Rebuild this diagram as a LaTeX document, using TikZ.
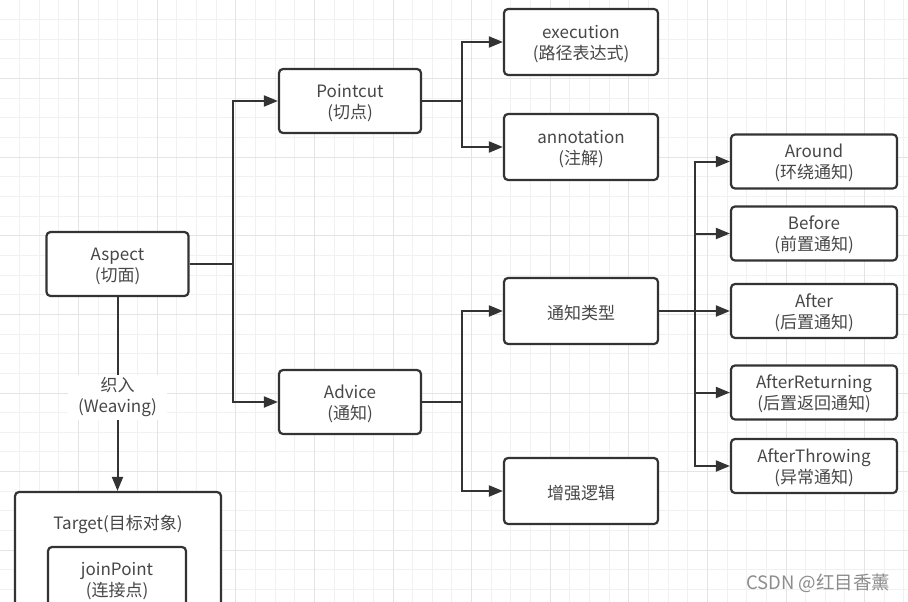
\documentclass[tikz,border=0pt]{standalone}
\usepackage{fontspec}
\setmainfont{Noto Sans CJK SC}
\usetikzlibrary{arrows.meta,positioning,calc}
\definecolor{ink}{HTML}{333333}
\definecolor{gridc}{HTML}{F1F1F1}
\definecolor{gridd}{HTML}{E4E4E4}
\definecolor{mark}{HTML}{8C8C8C}

\begin{document}
\begin{tikzpicture}[x=1pt, y=-1pt, >={Triangle[length=14pt,width=11pt]},
  txt/.style={text=ink!90, font=\fontsize{17}{21}\selectfont},
  box/.style={txt, draw=ink, line width=2.2pt, rounded corners=4pt, fill=white, align=center, inner sep=0pt},
  tbox/.style={box, execute at begin node={\rule{0pt}{38pt}}},
  obox/.style={box, execute at begin node={\rule{0pt}{19pt}}},
  pbox/.style={tbox, minimum width=142pt, minimum height=64pt},
  mbox/.style={minimum width=154pt, minimum height=66pt},
  sbox/.style={tbox, minimum width=166pt, minimum height=54pt},
  link/.style={draw=ink, line width=2pt},
  arr/.style={link, ->}]
  \useasboundingbox (0,0) rectangle (908,602);
  \clip (0,0) rectangle (908,602);
  % background grid
  \foreach \i in {1,...,46}
    \draw[gridc, line width=1pt] (\i*19.65,0) -- (\i*19.65,602);
  \foreach \j in {1,...,30}
    \draw[gridc, line width=1pt] (0,\j*19.65) -- (908,\j*19.65);
  \foreach \i in {4,8,...,44}
    \draw[gridd, line width=1pt] (\i*19.65,0) -- (\i*19.65,602);
  \foreach \j in {4,8,...,28}
    \draw[gridd, line width=1pt] (0,\j*19.65) -- (908,\j*19.65);
  % aspect and its two branches
  \node[pbox] (aspect) at (117.5,264) {Aspect\\(切面)};
  \node[pbox] (pointcut) at (350,101) {Pointcut\\(切点)};
  \node[pbox] (advice) at (350,402) {Advice\\(通知)};
  % pointcut side
  \node[tbox, mbox] (execution) at (581,42) {execution\\(路径表达式)};
  \node[tbox, mbox] (annotation) at (581,147) {annotation\\(注解)};
  % advice side
  \node[obox, mbox] (kind) at (581,311) {通知类型};
  \node[obox, mbox] (logic) at (581,491) {增强逻辑};
  % advice kinds
  \node[sbox] (around) at (814,161.5) {Around\\(环绕通知)};
  \node[sbox] (before) at (814,233.5) {Before\\(前置通知)};
  \node[sbox] (after) at (814,311) {After\\(后置通知)};
  \node[sbox] (afterret) at (814,392.5) {AfterReturning\\(后置返回通知)};
  \node[sbox] (afterthrow) at (814,466) {AfterThrowing\\(异常通知)};
  % target object
  \node[box, minimum width=206pt, minimum height=220pt] (target) at (118,602) {};
  \node[txt] (targettitle) at (118,524) {Target(目标对象)};
  \node[tbox, minimum width=138pt, minimum height=64pt] (joinpoint) at (117,579) {joinPoint\\(连接点)};
  % connectors
  \coordinate (j1) at (233,264);
  \coordinate (j2) at (462,101);
  \coordinate (j3) at (462,402);
  \coordinate (j4) at (695,311);
  \draw[link] (aspect.east) -- (j1);
  \draw[arr] (j1) |- (pointcut.west);
  \draw[arr] (j1) |- (advice.west);
  \draw[link] (pointcut.east) -- (j2);
  \draw[arr] (j2) |- (execution.west);
  \draw[arr] (j2) |- (annotation.west);
  \draw[link] (advice.east) -- (j3);
  \draw[arr] (j3) |- (kind.west);
  \draw[arr] (j3) |- (logic.west);
  \draw[link] (kind.east) -- (j4);
  \foreach \n in {around,before,after,afterret,afterthrow}
    \draw[arr] (j4) |- (\n.west);
  \draw[arr] (aspect.south) -- (aspect.south |- target.north);
  \node[txt, fill=white, align=center, inner xsep=10pt, inner ysep=3pt] (weaving) at (117.5,397.5) {织入\\(Weaving)};
  % watermark
  \node[anchor=east, text=mark, font=\fontsize{18.5}{18.5}\selectfont] (csdn) at (894,583) {CSDN @红目香薰};
\end{tikzpicture}
\end{document}
